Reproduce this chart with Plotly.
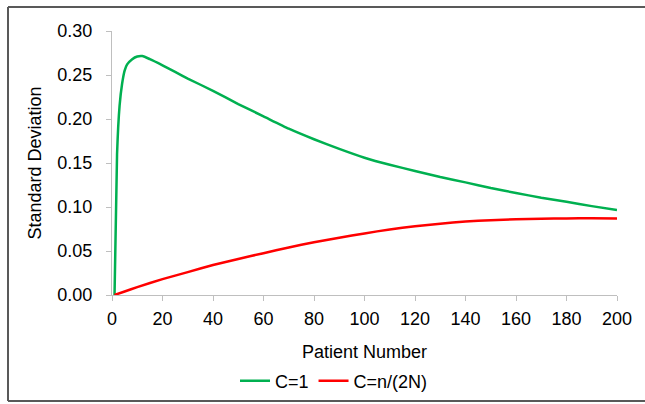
import plotly.graph_objects as go

patients = [1, 2, 3, 4, 5, 6, 8, 10, 12, 15, 20, 25, 30, 40, 50, 60, 70, 80, 90, 100,
            110, 120, 130, 140, 150, 160, 170, 180, 190, 200]
sd_c1 = [0.0, 0.16, 0.215, 0.24, 0.255, 0.262, 0.268, 0.271, 0.2715, 0.268, 0.261, 0.2535,
         0.246, 0.232, 0.217, 0.203, 0.189, 0.177, 0.166, 0.156, 0.148, 0.141, 0.134,
         0.128, 0.1215, 0.116, 0.1105, 0.106, 0.101, 0.0966]

patients_red = [1, 5, 10, 20, 30, 40, 50, 60, 70, 80, 90, 100, 110, 120, 130, 140, 150,
                160, 170, 180, 190, 200]
sd_cn = [0.0, 0.004, 0.009, 0.018, 0.026, 0.034, 0.041, 0.0475, 0.054, 0.060, 0.065,
         0.070, 0.0745, 0.078, 0.081, 0.0835, 0.085, 0.086, 0.0867, 0.087, 0.0872, 0.0870]

names = ["C=1", "C=n/(2N)"]
colors = ["#00b050", "#ff0000"]

FONT = "Liberation Sans, Arial, sans-serif"

fig = go.Figure()
fig.add_trace(go.Scatter(x=patients, y=sd_c1, mode="lines", name=names[0],
                         line=dict(color=colors[0], width=2.5, shape="spline", smoothing=0.5)))
fig.add_trace(go.Scatter(x=patients_red, y=sd_cn, mode="lines", name=names[1],
                         line=dict(color=colors[1], width=2.5, shape="spline", smoothing=0.5)))

L, R, T, B = 112, 28, 31, 109
W, H = 645, 404
pw, ph = W - L - R, H - T - B

fig.update_layout(
    width=W, height=H,
    margin=dict(l=L, r=R, t=T, b=B, autoexpand=False),
    paper_bgcolor="white", plot_bgcolor="white",
    font=dict(family=FONT, size=18, color="#000000"),
    showlegend=True,
    legend=dict(orientation="h", x=(334 - L) / pw, xanchor="center",
                y=(295 - 381) / ph, yanchor="middle",
                font=dict(size=18), itemwidth=30, tracegroupgap=0),
    xaxis=dict(range=[0, 200], dtick=20, tick0=0, showgrid=False, zeroline=False,
               showline=True, linecolor="#bfbfbf", linewidth=1,
               ticks="outside", ticklen=5, tickcolor="#bfbfbf",
               title=dict(text="Patient Number", standoff=17, font=dict(size=18)),
               tickfont=dict(size=18), ticklabelstandoff=2),
    yaxis=dict(range=[0, 0.30], dtick=0.05, tick0=0, tickformat=".2f",
               showgrid=False, zeroline=False,
               showline=True, linecolor="#bfbfbf", linewidth=1,
               ticks="outside", ticklen=5, tickcolor="#bfbfbf",
               title=dict(text="Standard Deviation", standoff=11, font=dict(size=18)),
               tickfont=dict(size=18), ticklabelstandoff=10),
)

border = dict(color="#595959", width=2)
bx0, bx1 = (8 - L) / pw, (700 - L) / pw
by0, by1 = (295 - 401) / ph, (295 - 7) / ph
fig.add_shape(type="line", xref="paper", yref="paper", x0=bx0, x1=bx0, y0=by0, y1=by1, line=border)
fig.add_shape(type="line", xref="paper", yref="paper", x0=bx0, x1=bx1, y0=by1, y1=by1, line=border)
fig.add_shape(type="line", xref="paper", yref="paper", x0=bx0, x1=bx1, y0=by0, y1=by0, line=border)

fig.write_html("out.html")
